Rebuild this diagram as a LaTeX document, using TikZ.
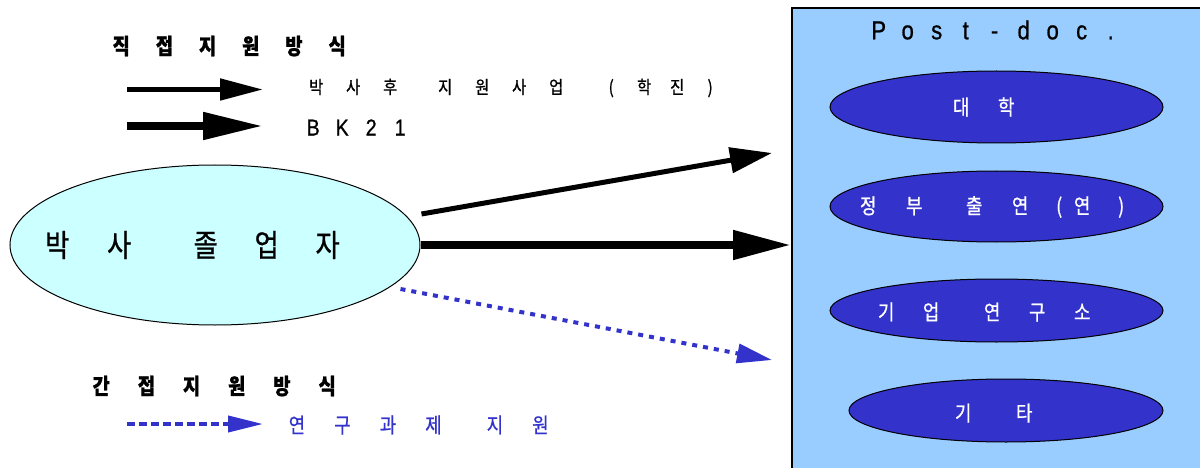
\documentclass[tikz,border=0pt]{standalone}
\usepackage{fontspec}
\usetikzlibrary{shapes.geometric,arrows.meta,calc}
\newfontfamily\kr[FakeStretch=0.85,FakeBold=0.8]{Noto Sans CJK KR}
\newfontfamily\lat[FakeStretch=0.85,FakeBold=0.8]{Liberation Sans}
\definecolor{boxblue}{HTML}{99CCFF}
\definecolor{ellblue}{HTML}{3333CC}
\definecolor{cyanfill}{HTML}{CCFFFF}
\makeatletter
\newcommand\pitched[2]{\@tfor\pch:=#2\do{\makebox[#1][c]{\pch}}}
\makeatother
\tikzset{
  txt/.style={inner sep=0pt, anchor=west, font=\kr},
  pdell/.style={ellipse, draw=black, line width=1pt, fill=ellblue, inner sep=0pt},
  whitetxt/.style={txt, text=white, font=\kr\fontsize{21}{24}\selectfont},
}
\begin{document}
\begin{tikzpicture}[x=1pt,y=-1pt]
\useasboundingbox (0,0) rectangle (1200,468);
\clip (0,0) rectangle (1200,468);
\fill[white] (0,0) rectangle (1200,468);

% Post-doc box
\node[draw=black, line width=2pt, fill=boxblue, minimum width=440pt, minimum height=490pt, anchor=north west, inner sep=0pt] (box) at (791,7) {};
\node[txt, font=\lat\fontsize{26}{30}\selectfont] (pdtitle) at (864,30) {\pitched{29pt}{Post-doc.}};

\node[pdell, minimum width=333pt, minimum height=72pt] (e1) at (996.5,107) {};
\node[pdell, minimum width=333pt, minimum height=71pt] (e2) at (996.5,206.5) {};
\node[pdell, minimum width=333pt, minimum height=63pt] (e3) at (996.5,310.5) {};
\node[pdell, minimum width=314pt, minimum height=63pt] (e4) at (1006,410.5) {};

\node[whitetxt] (t1) at (938.5,107) {\pitched{45pt}{대학}};
\node[whitetxt] (t2) at (845,207) {\pitched{46pt}{정부}\hspace{14pt}\pitched{46pt}{출연}\makebox[32pt][c]{(}\makebox[14pt][c]{연}\makebox[64pt][c]{)}};
\node[whitetxt] (t3) at (863.5,312) {\pitched{45pt}{기업}\hspace{16pt}\pitched{45pt}{연구소}};
\node[whitetxt] (t4) at (932.5,413) {\pitched{61pt}{기타}};

% main ellipse
\node[ellipse, draw=black, line width=1pt, fill=cyanfill, minimum width=410pt, minimum height=160pt, inner sep=0pt] (main) at (215,245) {};
\node[txt, font=\kr\fontsize{31}{36}\selectfont] (maintxt) at (26,245) {\pitched{62pt}{박사}\hspace{25pt}\pitched{61pt}{졸업자}};

% connectors
\coordinate (end1) at (772,153);
\coordinate (end3) at (772,360);
\draw[line width=5pt, -{Triangle[length=42pt,width=25pt]}] ($(main.east)+(1,-31)$) -- (end1);
\draw[line width=8pt, -{Triangle[length=58pt,width=28pt]}] (main.east) -- (main.east -| box.west);
\draw[ellblue, line width=4pt, dash pattern=on 5pt off 6pt, -{Triangle[length=35pt,width=19pt]}] ($(main.east)+(-20,44)$) -- (end3);

% legend
\node[txt, font=\kr\bfseries\fontsize{22}{26}\selectfont] (leg1) at (99.4,46) {\pitched{43.2pt}{직접지원방식}};
\coordinate (l1a) at (127,89.5);
\coordinate (l1b) at (263,89.5);
\draw[line width=5pt, -{Triangle[length=43pt,width=21pt]}] (l1a) -- (l1b);
\node[txt, font=\kr\fontsize{18}{21}\selectfont] (lt1) at (297.5,88) {\pitched{37pt}{박사후}\hspace{18pt}\pitched{37pt}{지원사업}\hspace{20pt}\pitched{33pt}{(학진)}};
\coordinate (l2a) at (127,126);
\coordinate (l2b) at (263,126);
\draw[line width=8pt, -{Triangle[length=60pt,width=26pt]}] (l2a) -- (l2b);
\node[txt, font=\lat\fontsize{23}{26}\selectfont] (lt2) at (298.5,127.5) {\pitched{29pt}{BK21}};

\node[txt, font=\kr\bfseries\fontsize{22}{26}\selectfont] (leg2) at (78.4,386) {\pitched{45.2pt}{간접지원방식}};
\coordinate (l3a) at (127,424);
\coordinate (l3b) at (263,424);
\draw[ellblue, line width=4pt, dash pattern=on 8pt off 4pt, -{Triangle[length=35pt,width=16pt]}] (l3a) -- (l3b);
\node[txt, text=ellblue, font=\kr\fontsize{21}{24}\selectfont] (lt3) at (274,425) {\pitched{45.5pt}{연구과제}\hspace{16pt}\pitched{45.5pt}{지원}};
\end{tikzpicture}
\end{document}
